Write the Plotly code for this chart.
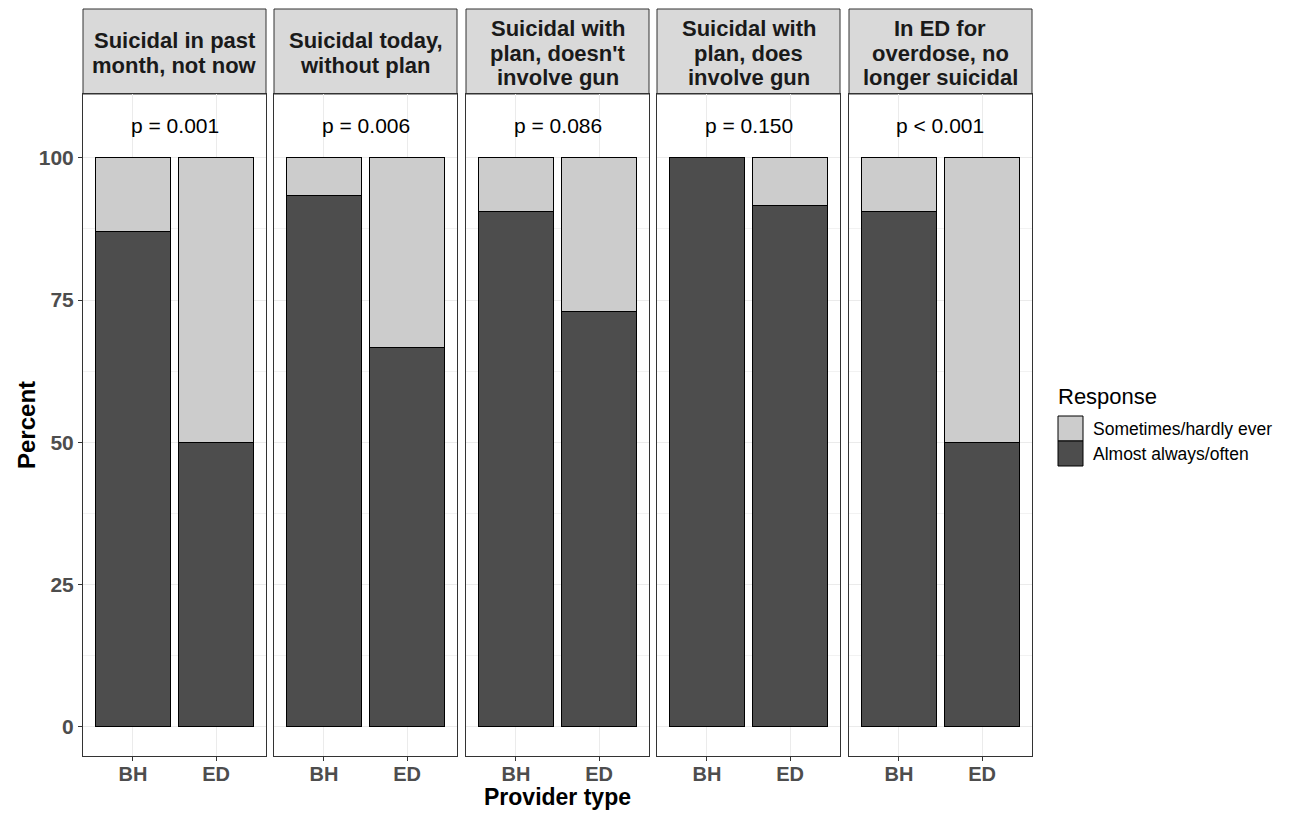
import plotly.graph_objects as go

panels = [["Suicidal in past", "month, not now"], ["Suicidal today,", "without plan"],
          ["Suicidal with", "plan, doesn't", "involve gun"], ["Suicidal with", "plan, does", "involve gun"],
          ["In ED for", "overdose, no", "longer suicidal"]]
pvals = ["p = 0.001", "p = 0.006", "p = 0.086", "p = 0.150", "p < 0.001"]
providers = ["BH", "ED"]
almost_always = [[87.0, 50.0], [93.3, 66.7], [90.5, 73.0], [100.0, 91.7], [90.5, 50.0]]
sometimes = [[100 - v for v in row] for row in almost_always]

OFF = 8  # page body margin
W, H = 1293 - 2 * OFF, 819 - 2 * OFF
DARK, LIGHT = "#4D4D4D", "#CCCCCC"
FONT = "Liberation Sans, Arial, sans-serif"


def fx(px):
    return (px - OFF) / W


def fy(py):
    return 1 - (py - OFF) / H


px_x = [(83, 266), (274, 457), (466, 649), (657, 840), (849, 1032)]
top_px, bot_px, strip_top = 94, 756, 9
ydom = [fy(bot_px), fy(top_px)]

fig = go.Figure()
shapes, annos = [], []
for i in range(5):
    xa = "x" if i == 0 else f"x{i+1}"
    ya = "y" if i == 0 else f"y{i+1}"
    fig.add_trace(go.Bar(x=providers, y=almost_always[i], xaxis=xa, yaxis=ya,
                         marker=dict(color=DARK, line=dict(color="black", width=1)),
                         width=0.9, name="Almost always/often", showlegend=False))
    fig.add_trace(go.Bar(x=providers, y=sometimes[i], xaxis=xa, yaxis=ya,
                         marker=dict(color=LIGHT, line=dict(color="black", width=1)),
                         width=0.9, name="Sometimes/hardly ever", showlegend=False))
    x0, x1 = px_x[i]
    dom = [fx(x0), fx(x1)]
    axk = "xaxis" if i == 0 else f"xaxis{i+1}"
    ayk = "yaxis" if i == 0 else f"yaxis{i+1}"
    fig.layout[axk] = dict(domain=dom, anchor=ya, range=[-0.6, 1.6], showline=True, mirror=True,
                           linecolor="#333333", linewidth=1, ticks="outside", ticklen=4,
                           tickcolor="#333333", showgrid=True, gridcolor="#EBEBEB", gridwidth=1,
                           tickfont=dict(family=FONT, size=20, color="#4D4D4D", weight="bold"),
                           ticklabelstandoff=-4, zeroline=False, fixedrange=True)
    fig.layout[ayk] = dict(domain=ydom, anchor=xa, range=[-5.1, 111.2], showline=True, mirror=True,
                           linecolor="#333333", linewidth=1,
                           tickvals=[0, 25, 50, 75, 100], showticklabels=(i == 0),
                           ticks="outside" if i == 0 else "", ticklen=4, tickcolor="#333333",
                           showgrid=True, gridcolor="#EBEBEB", gridwidth=1, zeroline=False,
                           minor=dict(tickvals=[12.5, 37.5, 62.5, 87.5, 112.5], showgrid=True,
                                      gridcolor="#F2F2F2", gridwidth=0.6, ticks=""),
                           tickfont=dict(family=FONT, size=21, color="#4D4D4D", weight="bold"),
                           fixedrange=True)
    # strip
    shapes.append(dict(type="rect", xref="paper", yref="paper", x0=dom[0], x1=dom[1],
                       y0=ydom[1], y1=fy(strip_top), fillcolor="#D9D9D9",
                       line=dict(color="#333333", width=1), layer="below"))
    lines = panels[i]
    n = len(lines)
    for k, line in enumerate(lines):
        cy = 53 + (k - (n - 1) / 2) * 24
        annos.append(dict(xref="paper", yref="paper", x=(dom[0] + dom[1]) / 2,
                          y=fy(cy), text=line, showarrow=False,
                          font=dict(family=FONT, size=22, color="#1A1A1A", weight="bold"),
                          xanchor="center", yanchor="middle"))
    annos.append(dict(xref=xa, yref=ya, x=0.5, y=105.6, text=pvals[i], showarrow=False,
                      font=dict(family=FONT, size=21, color="black"),
                      xanchor="center", yanchor="middle"))

# axis titles
annos.append(dict(xref="paper", yref="paper", x=fx(26), y=(ydom[0] + ydom[1]) / 2, text="Percent",
                  textangle=-90, showarrow=False,
                  font=dict(family=FONT, size=24, color="black", weight="bold"),
                  xanchor="center", yanchor="middle"))
annos.append(dict(xref="paper", yref="paper", x=fx((83 + 1032) / 2), y=0, text="Provider type",
                  showarrow=False, font=dict(family=FONT, size=23, color="black", weight="bold"),
                  xanchor="center", yanchor="bottom", borderpad=0))
# legend
annos.append(dict(xref="paper", yref="paper", x=fx(1056), y=fy(397), text="Response",
                  showarrow=False, font=dict(family=FONT, size=22, color="black"),
                  xanchor="left", yanchor="middle"))
leg = [("Sometimes/hardly ever", LIGHT, 416), ("Almost always/often", DARK, 441)]
for lab, col, ytop in leg:
    shapes.append(dict(type="rect", xref="paper", yref="paper", x0=fx(1058), x1=fx(1083),
                       y0=fy(ytop + 25), y1=fy(ytop), fillcolor=col,
                       line=dict(color="black", width=1)))
    annos.append(dict(xref="paper", yref="paper", x=fx(1091), y=fy(ytop + 13), text=lab,
                      showarrow=False, font=dict(family=FONT, size=17.5, color="black"),
                      xanchor="left", yanchor="middle"))

fig.update_layout(width=W, height=H, barmode="stack", bargap=0.1,
                  margin=dict(l=0, r=0, t=0, b=0), plot_bgcolor="white", paper_bgcolor="white",
                  shapes=shapes, annotations=annos, showlegend=False)
fig.write_html("out.html")
